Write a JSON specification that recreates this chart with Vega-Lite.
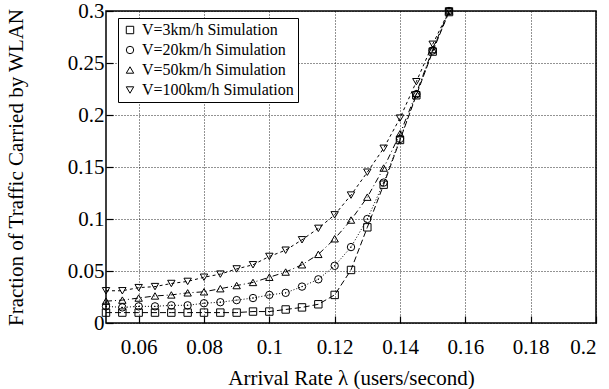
{
  "$schema": "https://vega.github.io/schema/vega-lite/v6.json",
  "width": 490,
  "height": 312,
  "autosize": {"type": "none"},
  "padding": {"left": 106, "top": 11, "right": 13, "bottom": 66},
  "background": "white",
  "config": {
    "font": "Liberation Serif",
    "view": {"stroke": "black", "strokeWidth": 1.5}
  },
  "data": {
    "values": [
      {"lambda": 0.05, "series": "V=3km/h Simulation", "fraction": 0.010},
      {"lambda": 0.055, "series": "V=3km/h Simulation", "fraction": 0.010},
      {"lambda": 0.06, "series": "V=3km/h Simulation", "fraction": 0.010},
      {"lambda": 0.065, "series": "V=3km/h Simulation", "fraction": 0.010},
      {"lambda": 0.07, "series": "V=3km/h Simulation", "fraction": 0.010},
      {"lambda": 0.075, "series": "V=3km/h Simulation", "fraction": 0.010},
      {"lambda": 0.08, "series": "V=3km/h Simulation", "fraction": 0.010},
      {"lambda": 0.085, "series": "V=3km/h Simulation", "fraction": 0.010},
      {"lambda": 0.09, "series": "V=3km/h Simulation", "fraction": 0.010},
      {"lambda": 0.095, "series": "V=3km/h Simulation", "fraction": 0.011},
      {"lambda": 0.1, "series": "V=3km/h Simulation", "fraction": 0.011},
      {"lambda": 0.105, "series": "V=3km/h Simulation", "fraction": 0.013},
      {"lambda": 0.11, "series": "V=3km/h Simulation", "fraction": 0.015},
      {"lambda": 0.115, "series": "V=3km/h Simulation", "fraction": 0.018},
      {"lambda": 0.12, "series": "V=3km/h Simulation", "fraction": 0.027},
      {"lambda": 0.125, "series": "V=3km/h Simulation", "fraction": 0.051},
      {"lambda": 0.13, "series": "V=3km/h Simulation", "fraction": 0.092},
      {"lambda": 0.135, "series": "V=3km/h Simulation", "fraction": 0.133},
      {"lambda": 0.14, "series": "V=3km/h Simulation", "fraction": 0.176},
      {"lambda": 0.145, "series": "V=3km/h Simulation", "fraction": 0.219},
      {"lambda": 0.15, "series": "V=3km/h Simulation", "fraction": 0.261},
      {"lambda": 0.155, "series": "V=3km/h Simulation", "fraction": 0.299},
      {"lambda": 0.05, "series": "V=20km/h Simulation", "fraction": 0.016},
      {"lambda": 0.055, "series": "V=20km/h Simulation", "fraction": 0.015},
      {"lambda": 0.06, "series": "V=20km/h Simulation", "fraction": 0.016},
      {"lambda": 0.065, "series": "V=20km/h Simulation", "fraction": 0.016},
      {"lambda": 0.07, "series": "V=20km/h Simulation", "fraction": 0.017},
      {"lambda": 0.075, "series": "V=20km/h Simulation", "fraction": 0.017},
      {"lambda": 0.08, "series": "V=20km/h Simulation", "fraction": 0.019},
      {"lambda": 0.085, "series": "V=20km/h Simulation", "fraction": 0.020},
      {"lambda": 0.09, "series": "V=20km/h Simulation", "fraction": 0.022},
      {"lambda": 0.095, "series": "V=20km/h Simulation", "fraction": 0.024},
      {"lambda": 0.1, "series": "V=20km/h Simulation", "fraction": 0.027},
      {"lambda": 0.105, "series": "V=20km/h Simulation", "fraction": 0.029},
      {"lambda": 0.11, "series": "V=20km/h Simulation", "fraction": 0.035},
      {"lambda": 0.115, "series": "V=20km/h Simulation", "fraction": 0.042},
      {"lambda": 0.12, "series": "V=20km/h Simulation", "fraction": 0.055},
      {"lambda": 0.125, "series": "V=20km/h Simulation", "fraction": 0.073},
      {"lambda": 0.13, "series": "V=20km/h Simulation", "fraction": 0.100},
      {"lambda": 0.135, "series": "V=20km/h Simulation", "fraction": 0.135},
      {"lambda": 0.14, "series": "V=20km/h Simulation", "fraction": 0.177},
      {"lambda": 0.145, "series": "V=20km/h Simulation", "fraction": 0.220},
      {"lambda": 0.15, "series": "V=20km/h Simulation", "fraction": 0.262},
      {"lambda": 0.155, "series": "V=20km/h Simulation", "fraction": 0.300},
      {"lambda": 0.05, "series": "V=50km/h Simulation", "fraction": 0.021},
      {"lambda": 0.055, "series": "V=50km/h Simulation", "fraction": 0.022},
      {"lambda": 0.06, "series": "V=50km/h Simulation", "fraction": 0.024},
      {"lambda": 0.065, "series": "V=50km/h Simulation", "fraction": 0.026},
      {"lambda": 0.07, "series": "V=50km/h Simulation", "fraction": 0.027},
      {"lambda": 0.075, "series": "V=50km/h Simulation", "fraction": 0.029},
      {"lambda": 0.08, "series": "V=50km/h Simulation", "fraction": 0.030},
      {"lambda": 0.085, "series": "V=50km/h Simulation", "fraction": 0.033},
      {"lambda": 0.09, "series": "V=50km/h Simulation", "fraction": 0.036},
      {"lambda": 0.095, "series": "V=50km/h Simulation", "fraction": 0.039},
      {"lambda": 0.1, "series": "V=50km/h Simulation", "fraction": 0.044},
      {"lambda": 0.105, "series": "V=50km/h Simulation", "fraction": 0.049},
      {"lambda": 0.11, "series": "V=50km/h Simulation", "fraction": 0.056},
      {"lambda": 0.115, "series": "V=50km/h Simulation", "fraction": 0.066},
      {"lambda": 0.12, "series": "V=50km/h Simulation", "fraction": 0.081},
      {"lambda": 0.125, "series": "V=50km/h Simulation", "fraction": 0.099},
      {"lambda": 0.13, "series": "V=50km/h Simulation", "fraction": 0.121},
      {"lambda": 0.135, "series": "V=50km/h Simulation", "fraction": 0.149},
      {"lambda": 0.14, "series": "V=50km/h Simulation", "fraction": 0.182},
      {"lambda": 0.145, "series": "V=50km/h Simulation", "fraction": 0.221},
      {"lambda": 0.15, "series": "V=50km/h Simulation", "fraction": 0.263},
      {"lambda": 0.155, "series": "V=50km/h Simulation", "fraction": 0.300},
      {"lambda": 0.05, "series": "V=100km/h Simulation", "fraction": 0.031},
      {"lambda": 0.055, "series": "V=100km/h Simulation", "fraction": 0.031},
      {"lambda": 0.06, "series": "V=100km/h Simulation", "fraction": 0.034},
      {"lambda": 0.065, "series": "V=100km/h Simulation", "fraction": 0.035},
      {"lambda": 0.07, "series": "V=100km/h Simulation", "fraction": 0.038},
      {"lambda": 0.075, "series": "V=100km/h Simulation", "fraction": 0.040},
      {"lambda": 0.08, "series": "V=100km/h Simulation", "fraction": 0.044},
      {"lambda": 0.085, "series": "V=100km/h Simulation", "fraction": 0.047},
      {"lambda": 0.09, "series": "V=100km/h Simulation", "fraction": 0.052},
      {"lambda": 0.095, "series": "V=100km/h Simulation", "fraction": 0.056},
      {"lambda": 0.1, "series": "V=100km/h Simulation", "fraction": 0.064},
      {"lambda": 0.105, "series": "V=100km/h Simulation", "fraction": 0.070},
      {"lambda": 0.11, "series": "V=100km/h Simulation", "fraction": 0.080},
      {"lambda": 0.115, "series": "V=100km/h Simulation", "fraction": 0.091},
      {"lambda": 0.12, "series": "V=100km/h Simulation", "fraction": 0.104},
      {"lambda": 0.125, "series": "V=100km/h Simulation", "fraction": 0.123},
      {"lambda": 0.13, "series": "V=100km/h Simulation", "fraction": 0.145},
      {"lambda": 0.135, "series": "V=100km/h Simulation", "fraction": 0.168},
      {"lambda": 0.14, "series": "V=100km/h Simulation", "fraction": 0.197},
      {"lambda": 0.145, "series": "V=100km/h Simulation", "fraction": 0.232},
      {"lambda": 0.15, "series": "V=100km/h Simulation", "fraction": 0.268},
      {"lambda": 0.155, "series": "V=100km/h Simulation", "fraction": 0.300}
    ]
  },
  "layer": [
    {
      "transform": [{"filter": "datum.series == 'V=3km/h Simulation'"}],
      "mark": {"type": "line", "color": "black", "strokeWidth": 1, "strokeDash": [6, 3]},
      "encoding": {
        "x": {
          "field": "lambda", "type": "quantitative",
          "scale": {"domain": [0.05, 0.2], "nice": false, "zero": false},
          "axis": {
            "title": "Arrival Rate λ (users/second)",
            "values": [0.06, 0.08, 0.1, 0.12, 0.14, 0.16, 0.18, 0.2],
            "format": "~g",
            "labelFont": "Liberation Serif", "titleFont": "Liberation Serif",
            "labelFontSize": 21, "titleFontSize": 21, "titleFontWeight": "normal",
            "labelColor": "black", "titleColor": "black",
            "domain": false, "ticks": true, "tickColor": "black", "tickSize": -7, "tickWidth": 1.2,
            "grid": true, "gridColor": "#000000", "gridDash": [1, 2], "gridOpacity": 0.85, "gridWidth": 1,
            "labelPadding": 20,
            "titlePadding": 10
          }
        },
        "y": {
          "field": "fraction", "type": "quantitative",
          "scale": {"domain": [0, 0.3], "nice": false},
          "axis": {
            "title": "Fraction of Traffic Carried by WLAN",
            "values": [0, 0.05, 0.1, 0.15, 0.2, 0.25, 0.3],
            "format": "~g",
            "labelFont": "Liberation Serif", "titleFont": "Liberation Serif",
            "labelFontSize": 21, "titleFontSize": 21, "titleFontWeight": "normal",
            "labelColor": "black", "titleColor": "black",
            "domain": false, "ticks": true, "tickColor": "black", "tickSize": -7, "tickWidth": 1.2,
            "grid": true, "gridColor": "#000000", "gridDash": [1, 2], "gridOpacity": 0.85, "gridWidth": 1,
            "labelPadding": 9,
            "titlePadding": 41
          }
        }
      }
    },
    {
      "transform": [{"filter": "datum.series == 'V=20km/h Simulation'"}],
      "mark": {"type": "line", "color": "black", "strokeWidth": 1, "strokeDash": [1, 2]},
      "encoding": {
        "x": {"field": "lambda", "type": "quantitative"},
        "y": {"field": "fraction", "type": "quantitative"}
      }
    },
    {
      "transform": [{"filter": "datum.series == 'V=50km/h Simulation'"}],
      "mark": {"type": "line", "color": "black", "strokeWidth": 1, "strokeDash": [6, 3, 1, 3]},
      "encoding": {
        "x": {"field": "lambda", "type": "quantitative"},
        "y": {"field": "fraction", "type": "quantitative"}
      }
    },
    {
      "transform": [{"filter": "datum.series == 'V=100km/h Simulation'"}],
      "mark": {"type": "line", "color": "black", "strokeWidth": 1, "strokeDash": [3, 3]},
      "encoding": {
        "x": {"field": "lambda", "type": "quantitative"},
        "y": {"field": "fraction", "type": "quantitative"}
      }
    },
    {
      "mark": {"type": "point", "filled": false, "color": "black", "strokeWidth": 1, "size": 55, "opacity": 1},
      "encoding": {
        "x": {"field": "lambda", "type": "quantitative"},
        "y": {"field": "fraction", "type": "quantitative"},
        "shape": {
          "field": "series", "type": "nominal",
          "scale": {
            "domain": ["V=3km/h Simulation", "V=20km/h Simulation", "V=50km/h Simulation", "V=100km/h Simulation"],
            "range": ["square", "circle", "triangle-up", "triangle-down"]
          },
          "legend": {
            "title": null,
            "orient": "none",
            "legendX": 12,
            "legendY": 7,
            "padding": 4,
            "labelFont": "Liberation Serif",
            "labelFontSize": 16,
            "labelColor": "black",
            "strokeColor": "black",
            "fillColor": "white",
            "rowPadding": 4,
            "symbolStrokeColor": "black",
            "symbolFillColor": "white",
            "symbolSize": 55,
            "symbolStrokeWidth": 1
          }
        }
      }
    },
    {
      "transform": [{"filter": "datum.series == 'V=20km/h Simulation'"}],
      "mark": {"type": "point", "filled": true, "color": "black", "size": 2, "opacity": 1},
      "encoding": {
        "x": {"field": "lambda", "type": "quantitative"},
        "y": {"field": "fraction", "type": "quantitative"}
      }
    }
  ]
}
